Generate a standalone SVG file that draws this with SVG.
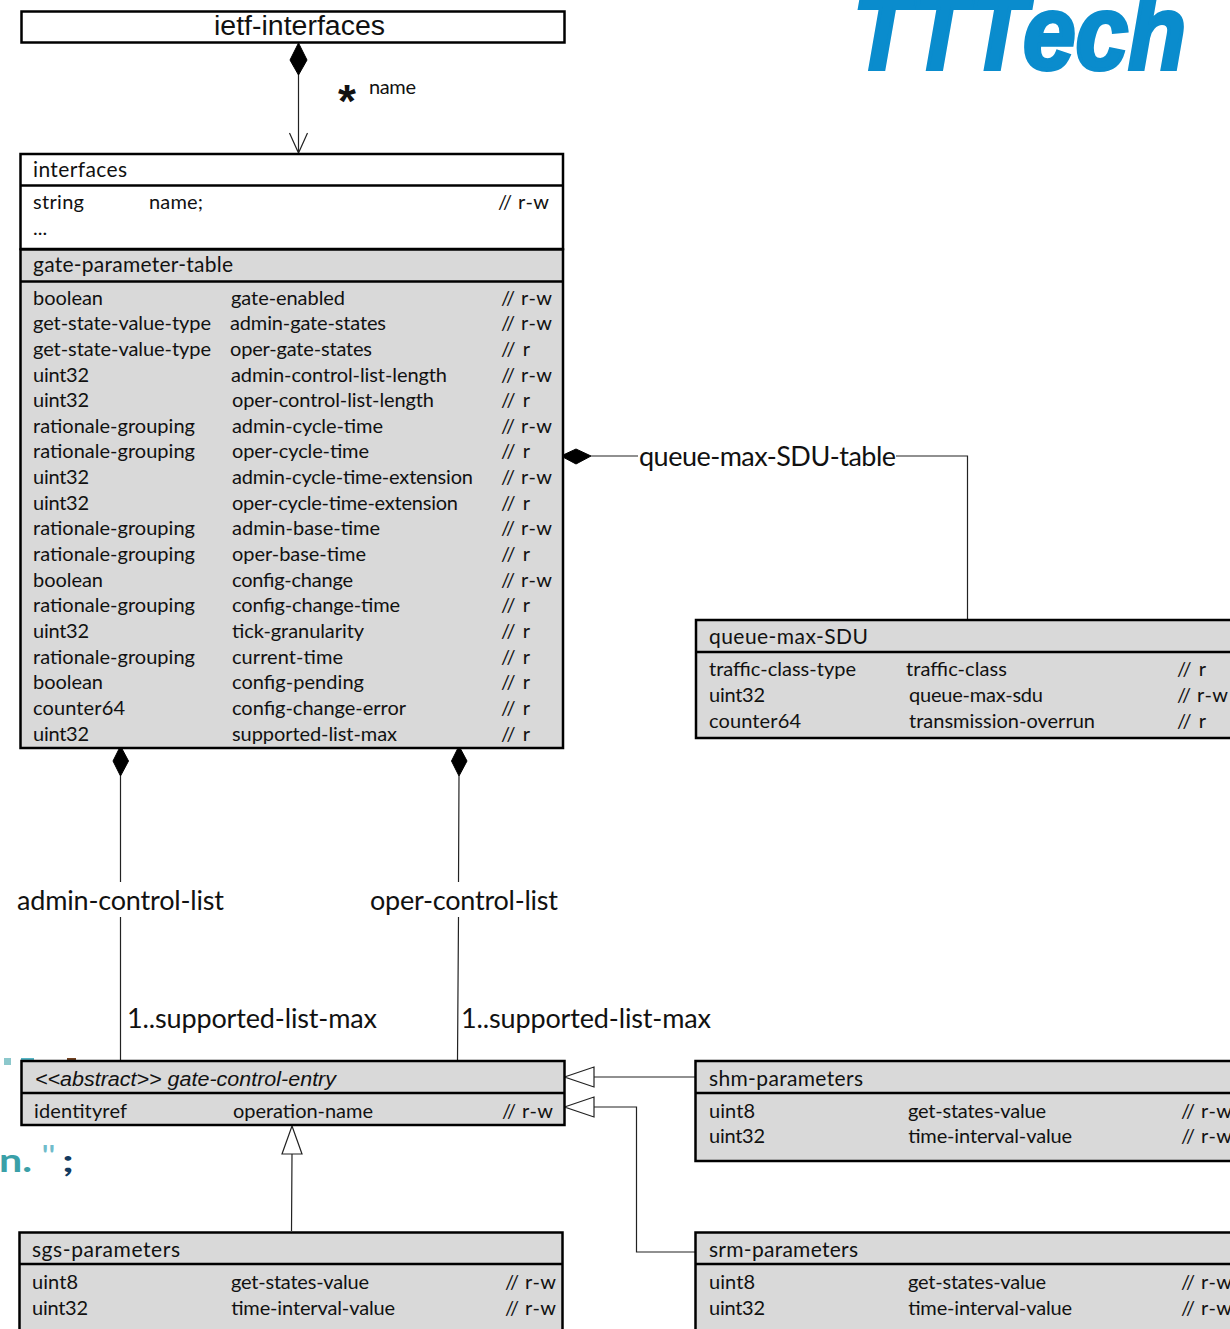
<svg xmlns="http://www.w3.org/2000/svg" width="1230" height="1329" viewBox="0 0 1230 1329">
<style>
text{font-family:"Lato","Carlito","Open Sans",sans-serif;font-size:20px;fill:#111}
.a{font-family:"Liberation Sans",Arial,sans-serif}
.t{font-size:21px}
.l{font-size:27px}
.box{stroke:#000;stroke-width:2.5px}
.w{fill:#fff}.g{fill:#d9d9d9}
.c{fill:none;stroke:#222;stroke-width:1.2px}
.d{fill:#000;stroke:#000;stroke-width:1px}
.o{fill:#fff;stroke:#222;stroke-width:1.2px}
</style>
<rect width="1230" height="1329" fill="#fff"/>
<g id="logo"><text x="853" y="69" class="a" textLength="333" lengthAdjust="spacingAndGlyphs" style="font-size:106px;font-weight:bold;font-style:italic;fill:#0a8ccd;stroke:#0a8ccd;stroke-width:4px">TTTech</text></g>
<g id="residue">
<text x="-1" y="1172" textLength="33" lengthAdjust="spacingAndGlyphs" style="font-size:32px;font-weight:bold;fill:#3aa0a8">n.</text>
<text x="41" y="1166" textLength="15" lengthAdjust="spacingAndGlyphs" style="font-size:28px;fill:#70bccb">"</text>
<text x="62" y="1172" textLength="12" lengthAdjust="spacingAndGlyphs" style="font-size:30px;font-weight:bold;fill:#123a60">;</text>
<rect x="4" y="1058" width="7" height="7" fill="#8cc8cc"/>
<rect x="21" y="1058" width="13" height="3" fill="#55b5c5"/>
<rect x="67" y="1058" width="9" height="3" fill="#704020"/>
</g>
<g id="connectors">
<path class="c" d="M298.500 74V152M289.500 133L298.500 153L307.500 133"/>
<path class="c" d="M120.500 776V882M120.500 917V1060M459 776L458.500 882M458.500 917L457.500 1060"/>
<path class="c" d="M591 456H638M896 456H967.500V619"/>
<path class="c" d="M594 1077H695M594 1107H636.500V1252H695M292 1154L291.500 1231"/>
<path class="d" d="M298.500 43L307 60L298.500 75L290 60Z"/>
<path class="d" d="M120.500 746L128.500 761L120.500 776L113 761Z"/>
<path class="d" d="M459 746L467 761L459 776L451.500 761Z"/>
<path class="d" d="M561 456L576 449L591 456L576 464Z"/>
<path class="o" d="M564.500 1077L594 1067V1087Z"/>
<path class="o" d="M564.500 1107L594 1097V1117Z"/>
<path class="o" d="M292 1126L302 1154H282Z"/>
<text x="338" y="117" class="a" style="font-size:46px;font-weight:bold">*</text>
<text x="369" y="94" textLength="47">name</text>
<text x="17" y="910" class="l" textLength="207">admin-control-list</text>
<text x="370" y="910" class="l" textLength="188">oper-control-list</text>
<text x="127" y="1028" class="l" textLength="250">1..supported-list-max</text>
<text x="461" y="1028" class="l" textLength="250">1..supported-list-max</text>
<text x="639" y="466" class="l" textLength="257">queue-max-SDU-table</text>
</g>
<g id="ietf-interfaces">
<rect class="box w" x="21.500" y="11.500" width="543" height="31"/>
<text x="214" y="35" class="a" textLength="171" lengthAdjust="spacingAndGlyphs" style="font-size:27px">ietf-interfaces</text>
</g>
<g id="interfaces">
<rect class="box w" x="20.500" y="154" width="542.500" height="95"/>
<path class="box" d="M20.500 185.500H563"/>
<text x="33" y="177" class="t" textLength="94">interfaces</text>
<text x="33" y="209" textLength="51">string</text>
<text x="149" y="209" textLength="54">name;</text>
<text x="498" y="209" textLength="51">// r-w</text>
<text x="33" y="235">...</text>
</g>
<g id="gate-parameter-table">
<rect class="box g" x="20.500" y="249.500" width="542.500" height="498.500"/>
<path class="box" d="M20.500 281.500H563"/>
<text x="33" y="272" class="t" textLength="200">gate-parameter-table</text>
<text x="33" y="305" textLength="70">boolean</text><text x="231" y="305" textLength="114">gate-enabled</text><text x="501" y="305" textLength="51">// r-w</text>
<text x="33" y="330" textLength="178">get-state-value-type</text><text x="230" y="330" textLength="156">admin-gate-states</text><text x="501" y="330" textLength="51">// r-w</text>
<text x="33" y="356" textLength="178">get-state-value-type</text><text x="230" y="356" textLength="142">oper-gate-states</text><text x="501" y="356" textLength="29">// r</text>
<text x="33" y="382" textLength="56">uint32</text><text x="231" y="382" textLength="216">admin-control-list-length</text><text x="501" y="382" textLength="51">// r-w</text>
<text x="33" y="407" textLength="56">uint32</text><text x="232" y="407" textLength="202">oper-control-list-length</text><text x="501" y="407" textLength="29">// r</text>
<text x="33" y="433" textLength="162">rationale-grouping</text><text x="232" y="433" textLength="151">admin-cycle-time</text><text x="501" y="433" textLength="51">// r-w</text>
<text x="33" y="458" textLength="162">rationale-grouping</text><text x="232" y="458" textLength="137">oper-cycle-time</text><text x="501" y="458" textLength="29">// r</text>
<text x="33" y="484" textLength="56">uint32</text><text x="232" y="484" textLength="241">admin-cycle-time-extension</text><text x="501" y="484" textLength="51">// r-w</text>
<text x="33" y="510" textLength="56">uint32</text><text x="232" y="510" textLength="226">oper-cycle-time-extension</text><text x="501" y="510" textLength="29">// r</text>
<text x="33" y="535" textLength="162">rationale-grouping</text><text x="232" y="535" textLength="148">admin-base-time</text><text x="501" y="535" textLength="51">// r-w</text>
<text x="33" y="561" textLength="162">rationale-grouping</text><text x="232" y="561" textLength="134">oper-base-time</text><text x="501" y="561" textLength="29">// r</text>
<text x="33" y="587" textLength="70">boolean</text><text x="232" y="587" textLength="121">config-change</text><text x="501" y="587" textLength="51">// r-w</text>
<text x="33" y="612" textLength="162">rationale-grouping</text><text x="232" y="612" textLength="168">config-change-time</text><text x="501" y="612" textLength="29">// r</text>
<text x="33" y="638" textLength="56">uint32</text><text x="232" y="638" textLength="132">tick-granularity</text><text x="501" y="638" textLength="29">// r</text>
<text x="33" y="664" textLength="162">rationale-grouping</text><text x="232" y="664" textLength="111">current-time</text><text x="501" y="664" textLength="29">// r</text>
<text x="33" y="689" textLength="70">boolean</text><text x="232" y="689" textLength="132">config-pending</text><text x="501" y="689" textLength="29">// r</text>
<text x="33" y="715" textLength="92">counter64</text><text x="232" y="715" textLength="174">config-change-error</text><text x="501" y="715" textLength="29">// r</text>
<text x="33" y="741" textLength="56">uint32</text><text x="232" y="741" textLength="165">supported-list-max</text><text x="501" y="741" textLength="29">// r</text>
</g>
<g id="queue-max-SDU">
<rect class="box g" x="696" y="620" width="540" height="118"/>
<path class="box" d="M696 652H1236"/>
<text x="709" y="644" class="t" textLength="159">queue-max-SDU</text>
<text x="709" y="676" textLength="147">traffic-class-type</text><text x="906" y="676" textLength="101">traffic-class</text><text x="1177" y="676" textLength="29">// r</text>
<text x="709" y="702" textLength="56">uint32</text><text x="909" y="702" textLength="134">queue-max-sdu</text><text x="1177" y="702" textLength="51">// r-w</text>
<text x="709" y="728" textLength="92">counter64</text><text x="909" y="728" textLength="186">transmission-overrun</text><text x="1177" y="728" textLength="29">// r</text>
</g>
<g id="gate-control-entry">
<rect class="box g" x="21.500" y="1061" width="543" height="64"/>
<path class="box" d="M21.500 1093H564.500"/>
<text x="35" y="1086" class="a" textLength="301" lengthAdjust="spacingAndGlyphs" style="font-size:20px;font-style:italic">&lt;&lt;abstract&gt;&gt; gate-control-entry</text>
<text x="34" y="1118" textLength="93">identityref</text><text x="233" y="1118" textLength="140">operation-name</text><text x="502" y="1118" textLength="51">// r-w</text>
</g>
<g id="shm-parameters">
<rect class="box g" x="695.500" y="1061" width="541" height="100"/>
<path class="box" d="M695.500 1093H1236"/>
<text x="709" y="1086" class="t" textLength="154">shm-parameters</text>
<text x="709" y="1118" textLength="46">uint8</text><text x="908" y="1118" textLength="138">get-states-value</text><text x="1181" y="1118" textLength="51">// r-w</text>
<text x="709" y="1143" textLength="56">uint32</text><text x="908" y="1143" textLength="164">time-interval-value</text><text x="1181" y="1143" textLength="51">// r-w</text>
</g>
<g id="sgs-parameters">
<rect class="box g" x="19.500" y="1232.500" width="543" height="110"/>
<path class="box" d="M19.500 1264H562.500"/>
<text x="32" y="1257" class="t" textLength="148">sgs-parameters</text>
<text x="32" y="1289" textLength="46">uint8</text><text x="231" y="1289" textLength="138">get-states-value</text><text x="505" y="1289" textLength="51">// r-w</text>
<text x="32" y="1315" textLength="56">uint32</text><text x="231" y="1315" textLength="164">time-interval-value</text><text x="505" y="1315" textLength="51">// r-w</text>
</g>
<g id="srm-parameters">
<rect class="box g" x="695.500" y="1232.500" width="541" height="110"/>
<path class="box" d="M695.500 1264H1236"/>
<text x="709" y="1257" class="t" textLength="149">srm-parameters</text>
<text x="709" y="1289" textLength="46">uint8</text><text x="908" y="1289" textLength="138">get-states-value</text><text x="1181" y="1289" textLength="51">// r-w</text>
<text x="709" y="1315" textLength="56">uint32</text><text x="908" y="1315" textLength="164">time-interval-value</text><text x="1181" y="1315" textLength="51">// r-w</text>
</g>
</svg>
